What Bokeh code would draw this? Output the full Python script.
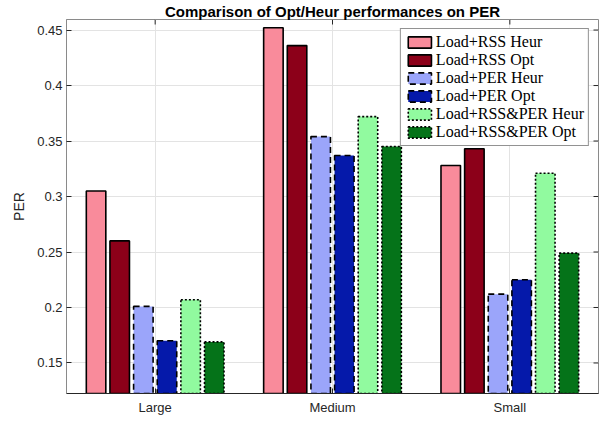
from bokeh.plotting import figure
from bokeh.models import (Range1d, FixedTicker, Legend, LegendItem, ColumnDataSource)
from bokeh.embed import file_html
from bokeh.resources import INLINE

categories = ["Large", "Medium", "Small"]
series_names = ["Load+RSS Heur", "Load+RSS Opt", "Load+PER Heur", "Load+PER Opt",
                "Load+RSS&PER Heur", "Load+RSS&PER Opt"]
rss_heur = [0.305, 0.452, 0.328]
rss_opt = [0.260, 0.436, 0.343]
per_heur = [0.201, 0.354, 0.212]
per_opt = [0.170, 0.337, 0.225]
rssper_heur = [0.207, 0.372, 0.321]
rssper_opt = [0.169, 0.345, 0.249]
y_ticks = [0.15, 0.2, 0.25, 0.3, 0.35, 0.4, 0.45]
y_tick_labels = ["0.15", "0.2", "0.25", "0.3", "0.35", "0.4", "0.45"]

series = [rss_heur, rss_opt, per_heur, per_opt, rssper_heur, rssper_opt]
colors = ["#F98B9B", "#8C0019", "#9BA5FA", "#0519AA", "#91FA9F", "#057319"]
dashes = ["solid", "solid", "6 4", "6 4", "2 2", "2 2"]

X0, X1 = 0.5, 3.5
Y0, Y1 = 0.1225, 0.4595
FW, FH = 532, 374
p = figure(frame_width=FW, frame_height=FH, output_backend="svg", toolbar_location=None,
           x_range=Range1d(X0, X1), y_range=Range1d(Y0, Y1),
           min_border_left=66, min_border_right=1, min_border_top=0, min_border_bottom=18,
           title="Comparison of Opt/Heur performances on PER")
p.title.align = "center"
p.title.text_font = "Liberation Sans"
p.title.text_font_size = "15px"
p.title.text_font_style = "bold"
p.title.text_color = "#000000"
p.title.offset = 0
p.title.standoff = 0
p.title.text_line_height = 0.8

p.outline_line_color = "#8a8a8a"
p.outline_line_width = 1
p.background_fill_color = "white"
p.border_fill_color = "white"

grid_color = "#e3e3e3"
p.xgrid.grid_line_color = grid_color
p.ygrid.grid_line_color = grid_color

x_pos = [1, 2, 3]
spacing = 0.1333
bar_w = 0.11
items = []
for i, (vals, col, dash, name) in enumerate(zip(series, colors, dashes, series_names)):
    off = (i - 2.5) * spacing
    src = ColumnDataSource(dict(x=[xx + off for xx in x_pos], top=vals))
    r = p.vbar(x="x", top="top", bottom=0, width=bar_w, source=src,
               fill_color=col, line_color="black", line_width=1.6, line_dash=dash)
    items.append(LegendItem(label=name, renderers=[r]))

# axes
xa = p.xaxis[0]
xa.ticker = FixedTicker(ticks=x_pos)
xa.major_label_overrides = {x: c for x, c in zip(x_pos, categories)}
ya = p.yaxis[0]
ya.ticker = FixedTicker(ticks=y_ticks)
ya.major_label_overrides = {t: s for t, s in zip(y_ticks, y_tick_labels)}
ya.axis_label = "PER"
ya.axis_label_text_font_style = "normal"
ya.axis_label_text_font = "Liberation Sans"
ya.axis_label_text_font_size = "14px"
ya.axis_label_text_color = "#262626"
ya.axis_label_standoff = 7

for ax, lc in ((xa, "#262626"), (ya, "#8a8a8a")):
    ax.axis_line_color = lc
    ax.major_tick_line_color = "#262626"
    ax.major_tick_in = 5
    ax.major_tick_out = 0
    ax.minor_tick_line_color = None
    ax.major_label_text_font = "Liberation Sans"
    ax.major_label_text_font_size = "13px"
    ax.major_label_text_color = "#262626"
    ax.major_label_standoff = 4
xa.major_label_standoff = 6

# box ticks on the right and top (inward), derived from the tick lists
tick_dx = 5 * (X1 - X0) / FW
tick_dy = 5 * (Y1 - Y0) / FH
p.segment(x0=[X1 - tick_dx] * len(y_ticks), x1=[X1] * len(y_ticks), y0=y_ticks, y1=y_ticks,
          line_color="#262626", line_width=1)
p.segment(x0=x_pos, x1=x_pos, y0=[Y1] * len(x_pos), y1=[Y1 - tick_dy] * len(x_pos),
          line_color="#262626", line_width=1)

legend = Legend(items=items, location="top_right")
legend.label_text_font = "Liberation Serif"
legend.label_text_font_size = "16px"
legend.label_text_line_height = 0.85
legend.label_text_color = "#000000"
legend.glyph_width = 29
legend.glyph_height = 14
legend.label_height = 14
legend.spacing = 0
legend.padding = 4
legend.margin = 9
legend.label_standoff = 2
legend.border_line_color = "#262626"
legend.border_line_width = 1
legend.background_fill_alpha = 1
p.add_layout(legend, "center")

open("out.html", "w").write(file_html(p, INLINE))
